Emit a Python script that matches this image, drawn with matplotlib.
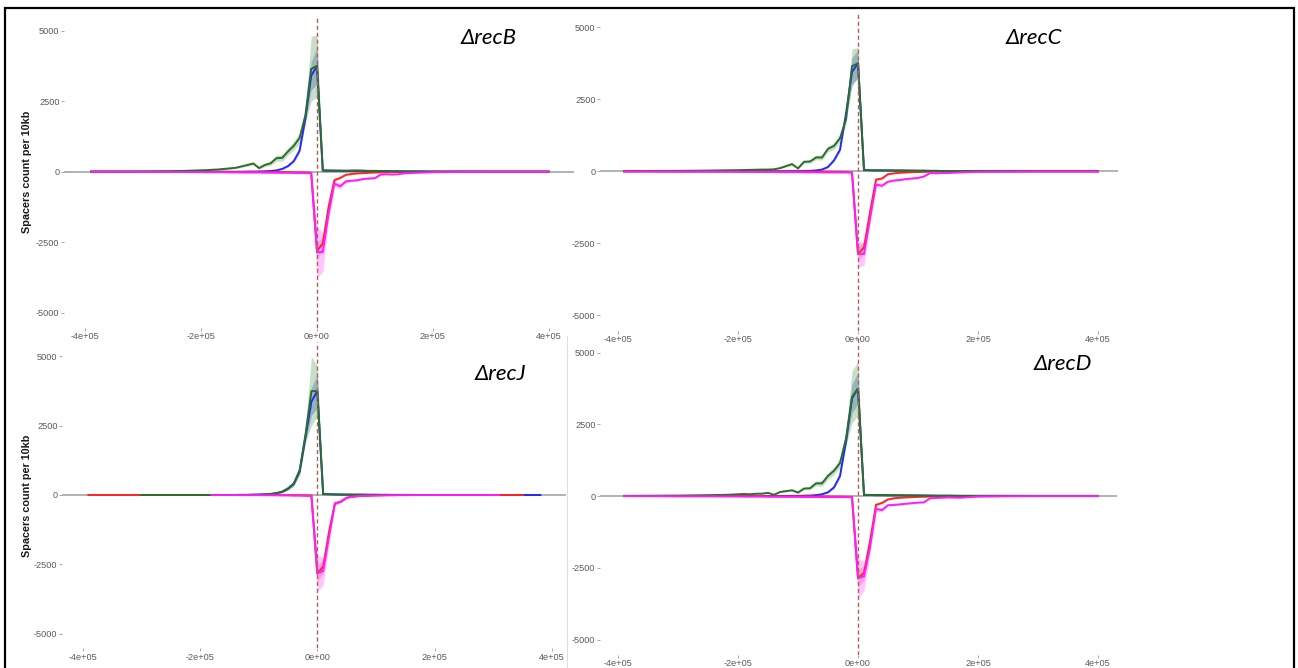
import numpy as np
import matplotlib
matplotlib.use("Agg")
import matplotlib.pyplot as plt
from matplotlib.lines import Line2D
from matplotlib.patches import Rectangle

W, H = 1298, 668
NA = np.nan

# ---------------- data ----------------
pos_kb = [-390, -350, -300, -250, -220,
          -200, -190, -180, -170, -160, -150, -140, -130, -120, -110,
          -100, -90, -80, -70, -60, -50, -40, -30, -20, -10,
          0,
          10, 20, 30, 40, 50, 60, 70, 80, 90, 100, 110, 120, 130, 140, 150,
          170, 200, 250, 310, 350, 380, 400]

x_ticks = [-400000, -200000, 0, 200000, 400000]
x_tick_labels = ["-4e+05", "-2e+05", "0e+00", "2e+05", "4e+05"]
y_ticks = [-5000, -2500, 0, 2500, 5000]
y_tick_labels = ["-5000", "-2500", "0", "2500", "5000"]
panel_titles = ["\u0394recB", "\u0394recC", "\u0394recJ", "\u0394recD"]
y_label = "Spacers count per 10kb"

# ---- ΔrecB ----
recB_blue = [0, 0, 0, 0, 0,
             0, 0, 0, 0, 0, 0, 0, 0, 5, 5, 10, 15, 25, 45, 100, 200, 380, 750, 1900, 3400,
             3750,
             40, 35, 35, 30, 30, 30, 30, 30, 25, 25, 20, 20, 15, 15, 10,
             10, 5, 5, 0, 0, 0, 0]
recB_blue_err = [0, 0, 0, 0, 0,
                 0, 0, 0, 0, 0, 0, 0, 0, 5, 5, 5, 5, 10, 15, 20, 30, 50, 80, 150, 500,
                 650,
                 15, 10, 10, 10, 10, 10, 10, 10, 10, 10, 5, 5, 5, 5, 5,
                 5, 5, 0, 0, 0, 0, 0]
recB_green = [5, 5, 10, 20, 35,
              50, 55, 70, 80, 100, 120, 140, 190, 240, 290, 130, 240, 300, 480, 490, 720, 920, 1200, 2000, 3650,
              3750,
              50, 45, 40, 40, 35, 40, 45, 35, 30, 30, 25, 20, 15, 15, 10,
              10, 5, 5, 5, 5, 5, 5]
recB_green_err = [5, 5, 5, 10, 10,
                  15, 15, 20, 20, 25, 25, 30, 40, 50, 50, 50, 60, 80, 100, 120, 130, 150, 180, 250, 1150,
                  1100,
                  20, 15, 15, 15, 15, 15, 15, 15, 10, 10, 10, 10, 10, 10, 5,
                  5, 5, 5, 5, 5, 5, 5]
recB_red = [0, 0, -5, -5, -5,
            -5, -5, -5, -5, -5, -10, -10, -10, -10, -10, -10, -10, -10, -15, -15, -15, -20, -20, -25, -40,
            -2800,
            -2550, -1250, -300, -220, -110, -80, -60, -50, -40, -30, -20, -15, -10, -10, -10,
            -5, -5, 0, 0, 0, 0, 0]
recB_red_err = [0, 0, 5, 5, 5,
                5, 5, 5, 5, 5, 5, 5, 5, 5, 5, 5, 5, 5, 5, 5, 5, 5, 5, 10, 15,
                300,
                250, 150, 60, 40, 30, 20, 15, 15, 10, 10, 10, 5, 5, 5, 5,
                5, 5, 0, 0, 0, 0, 0]
recB_magenta = [-5, -5, -10, -10, -15,
                -15, -20, -20, -20, -20, -25, -25, -30, -30, -30, -30, -35, -35, -40, -40, -40, -45, -45, -50, -50,
                -2850,
                -2850, -1500, -420, -520, -340, -320, -300, -260, -240, -230, -100, -90, -100, -90, -60,
                -40, -20, -10, -5, -5, -5, -5]
recB_magenta_err = [5, 5, 5, 5, 5,
                    5, 5, 5, 5, 5, 5, 5, 5, 5, 5, 5, 5, 5, 5, 5, 5, 10, 10, 10, 10,
                    900,
                    700, 200, 100, 100, 60, 40, 40, 30, 30, 30, 20, 20, 20, 20, 15,
                    10, 10, 5, 5, 5, 5, 5]

# ---- ΔrecC ----
recC_blue = [0, 0, 0, 0, 0,
             0, 0, 0, 0, 0, 0, 0, 0, 0, 5, 5, 10, 15, 30, 60, 150, 380, 750, 2000, 3450,
             3750,
             40, 35, 30, 30, 30, 25, 25, 25, 20, 20, 20, 15, 15, 10, 10,
             10, 5, 5, 0, 0, 0, 0]
recC_blue_err = [0, 0, 0, 0, 0,
                 0, 0, 0, 0, 0, 0, 0, 0, 0, 5, 5, 5, 5, 10, 15, 25, 40, 70, 120, 500,
                 450,
                 15, 10, 10, 10, 10, 10, 10, 10, 10, 5, 5, 5, 5, 5, 5,
                 5, 5, 0, 0, 0, 0, 0]
recC_green = [5, 10, 15, 25, 35,
              40, 45, 50, 55, 60, 60, 70, 110, 180, 250, 100, 330, 340, 480, 480, 780, 880, 1150, 1800, 3650,
              3750,
              50, 40, 35, 35, 30, 30, 30, 25, 25, 20, 20, 15, 15, 10, 10,
              10, 5, 5, 5, 5, 5, 5]
recC_green_err = [5, 5, 5, 10, 10,
                  10, 10, 10, 15, 15, 15, 15, 20, 30, 40, 30, 50, 60, 80, 90, 100, 110, 130, 150, 600,
                  550,
                  15, 15, 15, 15, 15, 15, 10, 10, 10, 10, 10, 10, 10, 5, 5,
                  5, 5, 5, 5, 5, 5, 5]
recC_red = [0, 0, -5, -5, -5,
            -5, -5, -5, -5, -5, -10, -10, -10, -10, -10, -10, -10, -10, -15, -15, -15, -20, -20, -25, -40,
            -2870,
            -2640, -1420, -290, -250, -100, -70, -50, -40, -30, -25, -20, -15, -10, -10, -10,
            -5, -5, 0, 0, 0, 0, 0]
recC_red_err = [0, 0, 5, 5, 5,
                5, 5, 5, 5, 5, 5, 5, 5, 5, 5, 5, 5, 5, 5, 5, 5, 5, 5, 10, 15,
                250,
                200, 150, 50, 40, 30, 20, 15, 15, 10, 10, 10, 5, 5, 5, 5,
                5, 5, 0, 0, 0, 0, 0]
recC_magenta = [-5, -5, -10, -10, -15,
                -15, -20, -20, -20, -20, -25, -25, -30, -30, -30, -30, -35, -35, -35, -40, -40, -40, -40, -40, -40,
                -2870,
                -2870, -1650, -460, -500, -360, -320, -300, -270, -250, -230, -180, -60, -70, -60, -60,
                -40, -20, -15, -5, -5, -5, -5]
recC_magenta_err = [5, 5, 5, 5, 5,
                    5, 5, 5, 5, 5, 5, 5, 5, 5, 5, 5, 5, 5, 5, 5, 5, 10, 10, 10, 10,
                    450,
                    400, 150, 80, 60, 40, 30, 30, 30, 25, 25, 20, 15, 15, 15, 10,
                    10, 10, 5, 5, 5, 5, 5]

# ---- ΔrecJ ----
recJ_blue = [NA, NA, NA, NA, 0,
             0, 0, 0, 0, 0, 0, 0, 5, 5, 10, 15, 20, 30, 60, 110, 220, 400, 850, 2100, 3370,
             3750,
             30, 25, 20, 15, 15, 10, 10, 10, 5, 5, 5, 5, 0, 0, 0,
             0, 0, 0, 0, 0, 0, NA]
recJ_blue_err = [0, 0, 0, 0, 0,
                 0, 0, 0, 0, 0, 0, 0, 5, 5, 5, 5, 5, 10, 15, 20, 30, 50, 100, 150, 500,
                 600,
                 10, 10, 10, 5, 5, 5, 5, 5, 5, 5, 5, 5, 0, 0, 0,
                 0, 0, 0, 0, 0, 0, 0]
recJ_green = [NA, NA, 0, 0, 0,
              0, 0, 0, 0, 0, 0, 0, 5, 5, 10, 15, 25, 40, 70, 120, 240, 420, 900, 2200, 3750,
              3750,
              40, 30, 25, 20, 15, 15, 15, 10, 10, 10, 5, 5, 5, 5, 5,
              0, 0, NA, NA, NA, NA, NA]
recJ_green_err = [0, 0, 0, 0, 0,
                  0, 0, 0, 0, 0, 0, 0, 5, 5, 5, 5, 10, 15, 20, 40, 60, 100, 150, 300, 1250,
                  900,
                  15, 10, 10, 10, 5, 5, 5, 5, 5, 5, 5, 5, 5, 5, 5,
                  0, 0, 0, 0, 0, 0, 0]
recJ_red = [0, 0, 0, 0, 0,
            0, 0, 0, 0, 0, 0, 0, 0, 0, 0, 0, 0, 0, -5, -5, -5, -10, -10, -10, -20,
            -2830,
            -2590, -1320, -300, -240, -100, -60, -40, -30, -20, -10, -10, -5, -5, 0, 0,
            0, 0, 0, 0, 0, NA, NA]
recJ_red_err = [0, 0, 0, 0, 0,
                0, 0, 0, 0, 0, 0, 0, 0, 0, 0, 0, 0, 0, 5, 5, 5, 5, 5, 5, 10,
                300,
                250, 150, 50, 30, 20, 15, 10, 10, 5, 5, 5, 5, 5, 0, 0,
                0, 0, 0, 0, 0, 0, 0]
recJ_magenta = [NA, NA, NA, NA, NA,
                NA, NA, 0, 0, 0, 0, 0, -5, -5, -5, -5, -10, -10, -10, -15, -15, -20, -20, -30, -40,
                -2830,
                -2750, -1500, -320, -240, -100, -60, -40, -30, -25, -20, -15, -10, -10, -5, -5,
                0, 0, 0, 0, NA, NA, NA]
recJ_magenta_err = [0, 0, 0, 0, 0,
                    0, 0, 0, 0, 0, 0, 0, 5, 5, 5, 5, 5, 5, 5, 5, 5, 5, 5, 10, 10,
                    650,
                    500, 250, 60, 40, 30, 20, 15, 10, 10, 10, 5, 5, 5, 5, 5,
                    0, 0, 0, 0, 0, 0, 0]

# ---- ΔrecD ----
recD_blue = [0, 0, 0, 0, 0,
             0, 0, 0, 0, 0, 0, 0, 0, 0, 5, 5, 10, 15, 30, 60, 130, 300, 700, 1900, 3400,
             3750,
             40, 35, 30, 30, 30, 25, 25, 20, 20, 20, 15, 15, 10, 10, 10,
             5, 5, 5, 0, 0, 0, 0]
recD_blue_err = [0, 0, 0, 0, 0,
                 0, 0, 0, 0, 0, 0, 0, 0, 0, 5, 5, 5, 5, 10, 15, 25, 40, 70, 120, 500,
                 550,
                 15, 10, 10, 10, 10, 10, 10, 10, 10, 5, 5, 5, 5, 5, 5,
                 5, 5, 0, 0, 0, 0, 0]
recD_green = [5, 10, 15, 30, 40,
              60, 70, 60, 80, 80, 110, 40, 140, 170, 200, 120, 260, 270, 440, 440, 700, 880, 1150, 2000, 3450,
              3750,
              40, 35, 30, 30, 25, 25, 25, 20, 20, 15, 15, 10, 10, 10, 10,
              5, 5, 5, 5, 5, 5, 5]
recD_green_err = [5, 5, 5, 10, 10,
                  10, 10, 10, 15, 15, 15, 15, 20, 25, 30, 30, 40, 50, 80, 100, 120, 130, 150, 250, 900,
                  950,
                  15, 15, 15, 15, 15, 10, 10, 10, 10, 10, 10, 10, 5, 5, 5,
                  5, 5, 5, 5, 5, 5, 5]
recD_red = [0, 0, -5, -5, -5,
            -5, -5, -5, -5, -5, -10, -10, -10, -10, -10, -10, -10, -10, -15, -15, -15, -20, -20, -25, -30,
            -2860,
            -2680, -1580, -310, -240, -120, -80, -60, -50, -40, -30, -25, -20, -15, -10, -10,
            -5, -5, 0, 0, 0, 0, 0]
recD_red_err = [0, 0, 5, 5, 5,
                5, 5, 5, 5, 5, 5, 5, 5, 5, 5, 5, 5, 5, 5, 5, 5, 5, 5, 10, 15,
                300,
                250, 150, 50, 40, 30, 20, 15, 15, 10, 10, 10, 5, 5, 5, 5,
                5, 5, 0, 0, 0, 0, 0]
recD_magenta = [-5, -5, -10, -10, -15,
                -15, -20, -20, -20, -20, -25, -25, -30, -30, -30, -30, -35, -35, -35, -40, -40, -40, -40, -40, -40,
                -2860,
                -2800, -1800, -450, -490, -320, -310, -290, -270, -250, -230, -220, -80, -70, -60, -50,
                -60, -20, -10, -5, -5, -5, -5]
recD_magenta_err = [5, 5, 5, 5, 5,
                    5, 5, 5, 5, 5, 5, 5, 5, 5, 5, 5, 5, 5, 5, 5, 5, 10, 10, 10, 10,
                    700,
                    500, 200, 80, 60, 40, 30, 30, 30, 25, 25, 20, 15, 15, 15, 10,
                    10, 10, 5, 5, 5, 5, 5]

panels_data = [
    [(recB_blue, recB_blue_err), (recB_red, recB_red_err), (recB_green, recB_green_err), (recB_magenta, recB_magenta_err)],
    [(recC_blue, recC_blue_err), (recC_red, recC_red_err), (recC_green, recC_green_err), (recC_magenta, recC_magenta_err)],
    [(recJ_blue, recJ_blue_err), (recJ_red, recJ_red_err), (recJ_green, recJ_green_err), (recJ_magenta, recJ_magenta_err)],
    [(recD_blue, recD_blue_err), (recD_red, recD_red_err), (recD_green, recD_green_err), (recD_magenta, recD_magenta_err)],
]

# ---------------- styles / layout ----------------
line_colors = ["#2626ff", "#ff2424", "#2a6e2a", "#ff1cff"]
band_colors = ["#3a5fcd", "#ff5070", "#2e8b2e", "#ff40ff"]
band_alphas = [0.35, 0.30, 0.27, 0.30]

# (left px, right px, zero x px, px per 1e5, zero y px, px per 1000)
layout = [
    (64, 574, 317.0, 57.9, 171.7, 28.2),
    (600, 1118, 858.0, 60.0, 171.3, 28.8),
    (62, 566, 317.3, 58.7, 495.0, 27.7),
    (600, 1117, 858.0, 60.0, 496.0, 28.7),
]
title_pos = [(489, 38), (1034, 38), (500, 374), (1063, 364)]
ylabel_pos = [(27, 171.5), (27, 495.5)]
YLIM = 5530

fig = plt.figure(figsize=(W / 100, H / 100), dpi=100)
fig.patch.set_facecolor("white")

x_bp = np.array(pos_kb) * 1000.0

for i, (left, right, x0, sx, y0, sy) in enumerate(layout):
    top = y0 - YLIM / 1000.0 * sy
    bottom = y0 + YLIM / 1000.0 * sy
    ax = fig.add_axes([left / W, 1 - bottom / H, (right - left) / W, (bottom - top) / H])
    ax.set_xlim((left - x0) / sx * 1e5, (right - x0) / sx * 1e5)
    ax.set_ylim(-YLIM, YLIM)
    for s in ax.spines.values():
        s.set_visible(False)
    ax.set_facecolor("none")

    ax.axhline(0, color="#a6a6a6", lw=1.2, zorder=1)

    for k, (vals, err) in enumerate(panels_data[i]):
        v = np.array(vals, dtype=float)
        e = np.array(err, dtype=float)
        ax.fill_between(x_bp, v - e, v + e, color=band_colors[k], alpha=band_alphas[k],
                        lw=0, zorder=2)
    for k, (vals, err) in enumerate(panels_data[i]):
        v = np.array(vals, dtype=float)
        ax.plot(x_bp, v, color=line_colors[k], lw=1.4, zorder=3 + k,
                solid_joinstyle="miter")

    ax.axvline(0, color="#b06058", lw=1.0, ls=(0, (3, 2)), zorder=10)

    ax.set_xticks(x_ticks)
    ax.set_xticklabels(x_tick_labels)
    ax.set_yticks(y_ticks)
    ax.set_yticklabels(y_tick_labels)
    ax.tick_params(length=2, width=0.6, color="#9a9a9a", pad=1.2,
                   labelsize=6.6, labelcolor="#5a5a5a")
    for lab in ax.get_xticklabels() + ax.get_yticklabels():
        lab.set_fontfamily("Liberation Sans")

    tx, ty = title_pos[i]
    fig.text(tx / W, 1 - ty / H, panel_titles[i], ha="center", va="center",
             fontsize=16, style="italic", family="Lato", color="black")

for (lx, ly) in ylabel_pos:
    fig.text(lx / W, 1 - ly / H, y_label, rotation=90, ha="center", va="center",
             fontsize=7.8, fontweight="bold", family="Liberation Sans", color="#1a1a1a")

# faint panel edge line (lower-left panel)
fig.add_artist(Line2D([567 / W, 567 / W], [0, 1 - 336 / H], transform=fig.transFigure,
                      color="#e0e0e0", lw=0.8))
# outer black frame
fig.add_artist(Rectangle((5 / W, -0.02), 1289 / W, 1 - 8 / H + 0.02, transform=fig.transFigure,
                         fill=False, edgecolor="black", lw=1.6))

fig.savefig("out.png", dpi=100, facecolor="white")
